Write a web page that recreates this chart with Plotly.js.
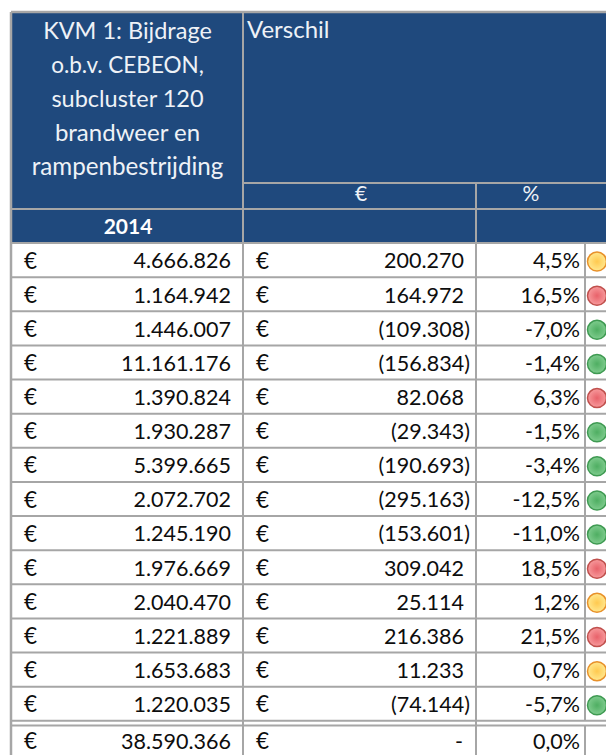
<!DOCTYPE html>
<html><head><meta charset="utf-8">
<script src="https://cdn.plot.ly/plotly-3.0.1.min.js"></script>
<style>html,body{margin:0;padding:0;background:#fff}#c{width:606px;height:755px}</style></head>
<body><div id="c"></div>
<script>
const headerLines = ["KVM 1: Bijdrage","o.b.v. CEBEON,","subcluster 120","brandweer en","rampenbestrijding"];
const yearLabel = "2014";
const diffLabel = "Verschil";
const subLabels = ["€","%"];
const bijdrage = ["4.666.826","1.164.942","1.446.007","11.161.176","1.390.824","1.930.287","5.399.665","2.072.702","1.245.190","1.976.669","2.040.470","1.221.889","1.653.683","1.220.035"];
const verschil = ["200.270","164.972","(109.308)","(156.834)","82.068","(29.343)","(190.693)","(295.163)","(153.601)","309.042","25.114","216.386","11.233","(74.144)"];
const procent = ["4,5%","16,5%","-7,0%","-1,4%","6,3%","-1,5%","-3,4%","-12,5%","-11,0%","18,5%","1,2%","21,5%","0,7%","-5,7%"];
const status = ["y","r","g","g","r","g","g","g","g","r","y","r","y","g"];
const totaal = ["38.590.366","-","0,0%"];

const BG="#1f497d", LINE="#a6a6a6", INK="#0d0d0d", HEAD="#eef2f7";
const X0=11, X1=243, X2=476, X3=585, XR=606;
const Y0=12, YSUB=183, YHEAD=209, YBODY=243, RH=34.13, YEND=YBODY+14*RH, YTOT=725.5;
const FONT="Lato, Carlito, sans-serif", FS=21.5, DY=3;
const headSizes=[23.5,22.5,23.5,24,24.2];

const rowY=i=>YBODY+(i+0.5)*RH;
const rows=bijdrage.map((_,i)=>rowY(i)+DY);
const circ=bijdrage.map((_,i)=>rowY(i)+1.5);
const totY=YTOT+(755-YTOT)/2+3;
const rect=(x0,y0,x1,y1,fill)=>({type:"rect",xref:"x",yref:"y",x0,y0,x1,y1,fillcolor:fill,line:{width:0},layer:"below"});
const ln=(x0,y0,x1,y1,w)=>({type:"line",xref:"x",yref:"y",x0,y0,x1,y1,line:{color:LINE,width:w||2},layer:"below"});

const shapes=[rect(X0,Y0,XR,YBODY,BG)];
shapes.push(ln(X0,Y0,XR,Y0,2.5),ln(X0,Y0,X0,755,2.5),ln(X1,Y0,X1,755),ln(X2,YSUB,X2,755),ln(X3,YBODY,X3,YEND));
shapes.push(ln(X3,YTOT,X3,755));
shapes.push(ln(X1,YSUB,XR,YSUB),ln(X0,YHEAD,XR,YHEAD),ln(X0,YBODY,XR,YBODY));
rows.forEach((_,i)=>shapes.push(ln(X0,YBODY+(i+1)*RH,XR,YBODY+(i+1)*RH)));
shapes.push(ln(X0,YTOT,XR,YTOT));

const txt=(x,y,text,pos,color,size)=>({type:"scatter",mode:"text",x,y,text,textposition:pos,
  textfont:{family:FONT,size:size||FS,color:color||INK},hoverinfo:"skip",showlegend:false,cliponaxis:false});
const colour={y:"#ffc94f",r:"#e8626a",g:"#4fae62"}, edge={y:"#e8912a",r:"#c0504d",g:"#3f9a52"}, shine={y:"#ffe88f",r:"#f79a9c",g:"#7fcc8e"};

const traces=[
  txt(headerLines.map(_=>127.5),headerLines.map((_,i)=>33+i*34),headerLines,"middle center",HEAD,headSizes),
  txt([128],[229],["<b>"+yearLabel+"</b>"],"middle center","#ffffff",21),
  txt([247],[32],[diffLabel],"middle right",HEAD,24),
  txt([361,531],[196,196],subLabels,"middle center",HEAD,21),
  txt(rows.map(_=>24),rows,rows.map(_=>"€"),"middle right",INK,22.5),
  txt(bijdrage.map(_=>231),rows,bijdrage,"middle left",INK),
  txt(rows.map(_=>256),rows,rows.map(_=>"€"),"middle right",INK,22.5),
  txt(verschil.map(v=>v.startsWith("(")?470:464),rows,verschil,"middle left",INK),
  txt(procent.map(_=>580),rows,procent,"middle left",INK),
  {type:"scatter",mode:"markers",x:status.map(_=>597),y:circ,hoverinfo:"skip",showlegend:false,cliponaxis:true,
   marker:{size:19,color:status.map(s=>shine[s]),gradient:{type:"radial",color:status.map(s=>colour[s])},line:{width:1.5,color:status.map(s=>edge[s])}}},
  txt([24,256],[totY,totY],["€","€"],"middle right",INK,22.5),
  txt([231],[totY],[totaal[0]],"middle left",INK),
  txt([459],[totY],[totaal[1]],"middle center",INK),
  txt([580],[totY],[totaal[2]],"middle left",INK)
];
Plotly.newPlot("c",traces,{width:606,height:755,margin:{l:0,r:0,t:0,b:0},paper_bgcolor:"#fff",plot_bgcolor:"#fff",showlegend:false,shapes,
  xaxis:{range:[0,606],visible:false,fixedrange:true},yaxis:{range:[755,0],visible:false,fixedrange:true}},{displayModeBar:false,staticPlot:true});
</script></body></html>
